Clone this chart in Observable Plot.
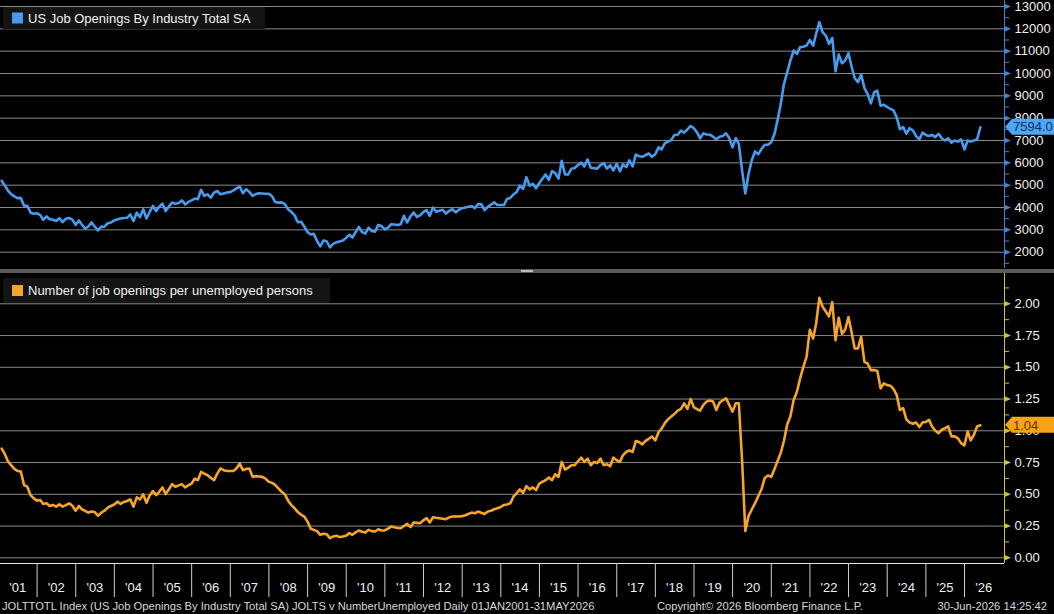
<!DOCTYPE html>
<html><head><meta charset="utf-8">
<script src="https://cdn.jsdelivr.net/npm/d3@7"></script>
<script src="https://cdn.jsdelivr.net/npm/@observablehq/plot@0.6"></script>
<style>
html,body{margin:0;padding:0;background:#000;}
body{width:1054px;height:614px;overflow:hidden;position:relative;font-family:"Liberation Sans",Arial,sans-serif;}
#top{position:absolute;left:0;top:0;}
#divider{position:absolute;left:0;top:269px;width:1054px;height:4px;background:#5a5a5a;}
#handle{position:absolute;left:521px;top:1px;width:12px;height:2px;border-top:1px solid #bbb;border-bottom:1px solid #bbb;box-sizing:border-box;}
#bottom{position:absolute;left:0;top:273px;}
#footer{position:absolute;left:0;top:600px;width:1054px;height:14px;font-size:11.2px;line-height:12px;color:#d8d8d8;white-space:nowrap;}
#footer span{position:absolute;top:0;}
</style></head><body>
<div id="top"></div>
<div id="divider"><div id="handle"></div></div>
<div id="bottom"></div>
<div id="footer"><span id="f1" style="left:2px"></span><span id="f2" style="left:657px"></span><span id="f3" style="right:7px"></span></div>
<script>
// ---- data (monthly, Jan 2001 .. May 2026) ----
const startYear = 2001;
const openings = [
  5200, 5000, 4760, 4600, 4500, 4420, 4430, 4080, 4080, 3770, 3720, 3740,
  3660, 3450, 3600, 3480, 3450, 3400, 3520, 3350, 3500, 3530, 3460, 3220,
  3420, 3240, 3050, 3150, 3330, 3150, 2980, 3150, 3140, 3300, 3330, 3420,
  3470, 3510, 3530, 3540, 3690, 3390, 3770, 3570, 3920, 3510, 3800, 4070,
  3840, 4040, 4170, 3840, 4050, 4220, 4170, 4200, 4320, 4140, 4250, 4320,
  4400, 4370, 4790, 4520, 4590, 4440, 4670, 4740, 4590, 4630, 4670, 4690,
  4770, 4860, 4940, 4640, 4820, 4700, 4520, 4600, 4640, 4630, 4620, 4620,
  4500, 4250, 4220, 4230, 4150, 3920, 3800, 3650, 3340, 3360, 3150, 2900,
  2790, 2820, 2500, 2260, 2520, 2490, 2220, 2370, 2440, 2480, 2520, 2640,
  2780, 2650, 2900, 3130, 2900, 2830, 3100, 2950, 2920, 3220, 3170, 3020,
  3100, 3250, 3240, 3220, 3250, 3630, 3330, 3600, 3780, 3580, 3650, 3800,
  3880, 3630, 4000, 3810, 3860, 3900, 3730, 3850, 3930, 3780, 3900, 3970,
  4000, 4030, 4060, 3970, 4150, 4150, 3880, 4030, 4130, 4230, 4110, 4110,
  4110, 4380, 4430, 4580, 4700, 4980, 4830, 5360, 4980, 5060, 4860, 5100,
  5300, 5480, 5240, 5630, 5540, 5290, 6090, 5480, 5480, 5740, 5770, 5900,
  6010, 5840, 6150, 5780, 5760, 5740, 5900, 5990, 5740, 5890, 5660, 5960,
  5620, 5930, 5810, 6110, 5840, 6370, 6300, 6270, 6350, 6420, 6270, 6390,
  6690, 6600, 6870, 6950, 7020, 7250, 7260, 7440, 7350, 7500, 7650, 7550,
  7350, 7100, 7320, 7270, 7260, 7170, 7060, 7170, 7200, 7320, 7110, 6690,
  7110, 6840, 5640, 4630, 5500, 6120, 6510, 6390, 6620, 6810, 6810, 6920,
  7290, 7890, 8630, 9530, 10050, 10580, 11030, 10880, 11180, 11200, 11250, 11510,
  11250, 11770, 12300, 11850, 11700, 11330, 11590, 10100, 10850, 10460, 10580, 10910,
  10280, 9800, 9610, 9950, 9350, 9080, 8660, 9160, 9230, 8560, 8600, 8510,
  8410, 8360, 8040, 7510, 7600, 7300, 7550, 7450, 7200, 7050, 7350, 7250,
  7200, 7250, 7150, 7300, 7100, 7000, 7100, 6900, 7000, 6950, 7050, 6600,
  7000, 6950, 7000, 7050, 7594
];
const ratio = [
  0.86, 0.82, 0.76, 0.73, 0.70, 0.684, 0.68, 0.572, 0.56, 0.494, 0.468, 0.45,
  0.455, 0.424, 0.43, 0.408, 0.416, 0.403, 0.421, 0.403, 0.415, 0.429, 0.41, 0.371,
  0.408, 0.382, 0.37, 0.356, 0.364, 0.36, 0.331, 0.356, 0.371, 0.395, 0.408, 0.42,
  0.442, 0.424, 0.44, 0.447, 0.46, 0.403, 0.476, 0.46, 0.499, 0.434, 0.49, 0.525,
  0.494, 0.52, 0.554, 0.502, 0.54, 0.58, 0.559, 0.57, 0.58, 0.554, 0.57, 0.585,
  0.624, 0.611, 0.676, 0.663, 0.65, 0.63, 0.611, 0.663, 0.703, 0.69, 0.684, 0.684,
  0.684, 0.703, 0.742, 0.69, 0.70, 0.703, 0.637, 0.643, 0.64, 0.637, 0.624, 0.598,
  0.59, 0.575, 0.546, 0.52, 0.50, 0.45, 0.415, 0.39, 0.36, 0.34, 0.325, 0.285,
  0.228, 0.22, 0.21, 0.181, 0.19, 0.186, 0.155, 0.168, 0.173, 0.163, 0.168, 0.173,
  0.195, 0.181, 0.2, 0.215, 0.205, 0.199, 0.22, 0.21, 0.207, 0.225, 0.215, 0.215,
  0.23, 0.246, 0.24, 0.235, 0.233, 0.25, 0.267, 0.241, 0.278, 0.275, 0.272, 0.295,
  0.312, 0.278, 0.319, 0.315, 0.312, 0.308, 0.304, 0.318, 0.325, 0.325, 0.325, 0.328,
  0.335, 0.345, 0.356, 0.351, 0.364, 0.355, 0.345, 0.365, 0.371, 0.382, 0.39, 0.40,
  0.416, 0.42, 0.429, 0.481, 0.51, 0.538, 0.512, 0.564, 0.538, 0.554, 0.533, 0.585,
  0.60, 0.611, 0.632, 0.611, 0.658, 0.637, 0.755, 0.695, 0.71, 0.729, 0.729, 0.76,
  0.789, 0.755, 0.781, 0.729, 0.755, 0.747, 0.781, 0.729, 0.736, 0.721, 0.789, 0.768,
  0.755, 0.807, 0.833, 0.846, 0.833, 0.919, 0.911, 0.893, 0.92, 0.937, 0.955, 0.924,
  0.989, 1.015, 1.06, 1.09, 1.112, 1.133, 1.159, 1.172, 1.216, 1.172, 1.25, 1.185,
  1.17, 1.159, 1.204, 1.23, 1.238, 1.23, 1.164, 1.222, 1.24, 1.256, 1.204, 1.151,
  1.217, 1.217, 0.76, 0.211, 0.33, 0.38, 0.43, 0.486, 0.54, 0.629, 0.648, 0.637,
  0.70, 0.76, 0.825, 0.92, 1.05, 1.112, 1.243, 1.308, 1.413, 1.504, 1.582, 1.796,
  1.726, 1.843, 2.047, 1.979, 1.94, 1.901, 2.013, 1.713, 1.89, 1.765, 1.796, 1.896,
  1.77, 1.648, 1.648, 1.739, 1.543, 1.53, 1.478, 1.478, 1.47, 1.334, 1.373, 1.36,
  1.355, 1.33, 1.282, 1.164, 1.178, 1.09, 1.065, 1.055, 1.065, 1.029, 1.065, 1.07,
  1.086, 1.034, 1.00, 0.982, 1.008, 1.02, 1.034, 0.956, 0.956, 0.94, 0.903, 0.885,
  0.995, 0.924, 0.969, 1.034, 1.043
];
const topMajor = [2000, 3000, 4000, 5000, 6000, 7000, 8000, 9000, 10000, 11000, 12000, 13000];
const topMinor = [1500, 2500, 3500, 4500, 5500, 6500, 7500, 8500, 9500, 10500, 11500, 12500];
const botMajor = [0, 0.25, 0.5, 0.75, 1, 1.25, 1.5, 1.75, 2];
const botMinor = [0.125, 0.375, 0.625, 0.875, 1.125, 1.375, 1.625, 1.875, 2.125];
const yearLabels = d3.range(2001, 2027);
const topTitle = "US Job Openings By Industry Total SA";
const botTitle = "Number of job openings per unemployed persons";
const footerLeft = "JOLTTOTL Index (US Job Openings By Industry Total SA) JOLTS v NumberUnemployed Daily 01JAN2001-31MAY2026";
const footerMid = "Copyright\u00A9 2026 Bloomberg Finance L.P.";
const footerRight = "30-Jun-2026 14:25:42";

// ---- derived tables ----
const monthEnd = k => new Date(startYear, k + 1, 0);
const topData = openings.map((v, k) => ({date: monthEnd(k), value: v}));
const botData = ratio.map((v, k) => ({date: monthEnd(k), value: v}));
const xDomain = [new Date(2001, 0, 20), new Date(2027, 0, 14)];
const yearStarts = d3.range(2002, 2027).map(y => new Date(y, 0, 1));
const yearMids = yearLabels.map(y => new Date(y, 6, 1));

const BLUE = "#479cf0", BLUE_AX = "#3f86d8", ORANGE = "#f7a528", YEL_AX = "#d2c23a", GRID = "#8a8a8a";
const FONT = "Liberation Sans, Arial, sans-serif";

const triRight = {draw(ctx) { ctx.moveTo(-3, -2.8); ctx.lineTo(3.5, 0); ctx.lineTo(-3, 2.8); ctx.closePath(); }};

function legendMark(label, color, x, y, w, h) {
  return (index, scales, values, dims) => {
    const g = d3.create("svg:g");
    g.append("rect").attr("x", x).attr("y", y).attr("width", w).attr("height", h).attr("fill", "#141414");
    g.append("rect").attr("x", x + 9).attr("y", y + (h - 11) / 2).attr("width", 11).attr("height", 11).attr("fill", color);
    g.append("text").attr("x", x + 25).attr("y", y + h / 2).attr("dy", "0.36em").attr("text-anchor", "start")
      .attr("fill", "#f2f2f2").attr("font-size", 13).attr("font-family", FONT).text(label);
    return g.node();
  };
}
function tagMark(value, text, fill, textColor) {
  return (index, scales, values, dims) => {
    const y = scales.y(value);
    const x0 = dims.width - dims.marginRight;
    const g = d3.create("svg:g");
    g.append("path").attr("d", `M${x0 + 1},${y} L${x0 + 8},${y - 8} H${dims.width} V${y + 8} H${x0 + 8} Z`).attr("fill", fill);
    g.append("text").attr("x", x0 + 9).attr("y", y).attr("dy", "0.36em").attr("text-anchor", "start").attr("fill", textColor)
      .attr("font-size", 13).attr("font-family", FONT).text(text);
    return g.node();
  };
}
function bottomLine(color) {
  return (index, scales, values, dims) => {
    const yb = dims.height - dims.marginBottom + 0.5;
    const l = d3.create("svg:line").attr("x1", dims.marginLeft).attr("x2", dims.width - dims.marginRight)
      .attr("y1", yb).attr("y2", yb).attr("stroke", color);
    return l.node();
  };
}

const common = {width: 1054, marginLeft: 0, marginRight: 50, style: {background: "transparent", color: "#f0f0f0", fontFamily: FONT, fontSize: "13px", overflow: "visible"}};

const topChart = Plot.plot({
  ...common,
  height: 268, marginTop: 0, marginBottom: 0,
  x: {type: "time", domain: xDomain, axis: null},
  y: {domain: [1270, 13268.6]},
  marks: [
    Plot.ruleY(topMajor, {stroke: GRID, strokeWidth: 1}),
    legendMark(topTitle, BLUE, 3, 7, 262, 22),
    Plot.lineY(topData, {x: "date", y: "value", stroke: BLUE, strokeWidth: 2.6}),
    Plot.ruleX([xDomain[1]], {stroke: BLUE_AX}),
    Plot.axisY({ticks: topMinor, anchor: "right", tickSize: 4, tickFormat: () => "", stroke: BLUE_AX, label: null}),
    Plot.dot(topMajor, {y: d => d, frameAnchor: "right", symbol: triRight, fill: BLUE_AX, stroke: null, dx: 3}),
    Plot.axisY({ticks: topMajor, anchor: "right", tickSize: 0, tickPadding: 10, tickFormat: d => String(d), color: "#f0f0f0", fontSize: 13, label: null}),
    tagMark(openings[openings.length - 1], openings[openings.length - 1].toFixed(1), "#4ea6f5", "#0b2d5e")
  ]
});

const botChart = Plot.plot({
  ...common,
  height: 324, marginTop: 0, marginBottom: 34,
  x: {type: "time", domain: xDomain},
  y: {domain: [-0.0449, 2.2386]},
  marks: [
    Plot.ruleY(botMajor, {stroke: GRID, strokeWidth: 1}),
    legendMark(botTitle, ORANGE, 3, 5, 327, 25),
    Plot.lineY(botData, {x: "date", y: "value", stroke: ORANGE, strokeWidth: 2.6}),
    bottomLine("#e6e6e6"),
    Plot.ruleX([xDomain[1]], {stroke: YEL_AX}),
    Plot.axisY({ticks: botMinor, anchor: "right", tickSize: 4, tickFormat: () => "", stroke: YEL_AX, label: null}),
    Plot.dot(botMajor, {y: d => d, frameAnchor: "right", symbol: triRight, fill: YEL_AX, stroke: null, dx: 3}),
    Plot.axisY({ticks: botMajor, anchor: "right", tickSize: 0, tickPadding: 10, tickFormat: d => d.toFixed(2), color: "#f0f0f0", fontSize: 13, label: null}),
    Plot.axisX({ticks: yearStarts, anchor: "bottom", tickSize: 34, tickFormat: () => "", stroke: "#d0d0d0", label: null}),
    Plot.axisX({ticks: yearMids, anchor: "bottom", tickSize: 0, tickPadding: 19, tickFormat: d => "'" + String(d.getFullYear()).slice(2), color: "#f0f0f0", fontSize: 13, label: null}),
    tagMark(ratio[ratio.length - 1], ratio[ratio.length - 1].toFixed(2), "#f7a21b", "#5a3300")
  ]
});

document.getElementById("top").appendChild(topChart);
document.getElementById("bottom").appendChild(botChart);
document.getElementById("f1").textContent = footerLeft;
document.getElementById("f2").textContent = footerMid;
document.getElementById("f3").textContent = footerRight;
</script>
</body></html>
